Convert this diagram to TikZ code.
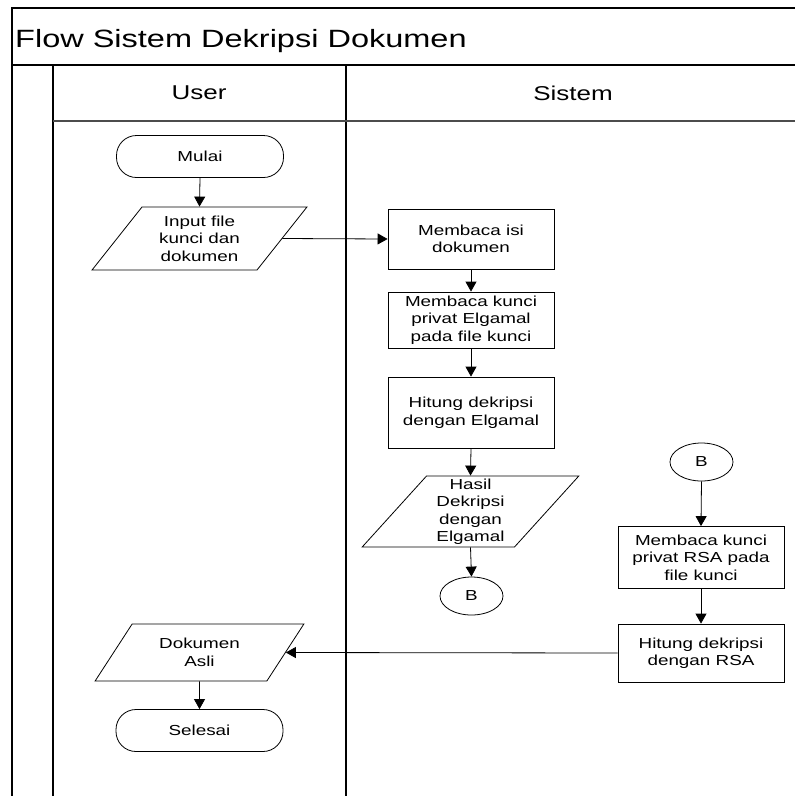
\documentclass[tikz,border=0pt]{standalone}
\usepackage{fontspec}
\setmainfont{Liberation Sans}[FakeStretch=1.3]
\usetikzlibrary{shapes.geometric,arrows.meta}
\newcommand{\nodefont}{\fontsize{14.5}{17.5}\selectfont}
\begin{document}
\begin{tikzpicture}[x=1pt,y=-1pt,
  frame/.style={line width=1.2pt,draw=black},
  box/.style={draw,line width=0.8pt,rectangle,minimum width=166pt,align=center,
    font=\nodefont,inner sep=2pt},
  term/.style={draw,line width=0.8pt,rectangle,rounded corners=20pt,minimum width=167pt,
    minimum height=42pt,font=\nodefont},
  io/.style={draw,line width=0.8pt,trapezium,trapezium left angle=53,trapezium right angle=127,
    trapezium stretches=true,align=center,inner sep=1pt,font=\nodefont},
  conn/.style={draw,line width=0.8pt,ellipse,minimum width=63pt,minimum height=38pt,inner sep=0pt,
    font=\nodefont},
  lane/.style={font=\fontsize{20}{24}\selectfont},
  arr/.style={line width=0.8pt,-{Triangle[length=10pt,width=11pt]}}]
\useasboundingbox (0,0) rectangle (795,796);

% swimlane frame
\draw[frame] (795,8) -- (12,8) -- (12,796);
\draw[line width=2pt] (12,65) -- (795,65);
\draw[frame] (53,65) -- (53,796);
\draw[frame] (346,65) -- (346,796);
\draw[line width=1.2pt,draw=black!70] (53,121) -- (795,121);
\node[anchor=base west,font=\fontsize{25}{30}\selectfont,inner sep=0pt] (title) at (15,47) {Flow Sistem Dekripsi Dokumen};
\node[lane] (huser) at (199,93) {User};
\node[lane] (hsys) at (573,93) {Sistem};

% user lane
\node[term] (mulai) at (200,156.5) {Mulai};
\node[io,minimum width=215pt,minimum height=63pt] (input) at (199.5,238.5) {Input file\\kunci dan\\dokumen};
\node[io,minimum width=209pt,minimum height=57pt] (asli) at (199.5,652.5) {Dokumen\\Asli};
\node[term] (selesai) at (199.5,730.5) {Selesai};

% system lane
\node[box,minimum height=60pt] (baca) at (471,239) {Membaca isi\\dokumen};
\node[box,minimum height=56pt] (kunciE) at (471,320) {Membaca kunci\\privat Elgamal\\pada file kunci};
\node[box,minimum height=71pt] (hitE) at (471,412.5) {Hitung dekripsi\\dengan Elgamal};
\node[io,minimum width=217pt,minimum height=71pt] (hasil) at (470.5,511.5) {Hasil\\Dekripsi\\dengan\\Elgamal};
\node[conn] (b1) at (471.5,596) {B};
\node[conn] (b2) at (701.5,462) {B};
\node[box,minimum height=62pt] (kunciR) at (701,557.5) {Membaca kunci\\privat RSA pada\\file kunci};
\node[box,minimum height=58pt] (hitR) at (701,653) {Hitung dekripsi\\dengan RSA};

% flow
\draw[arr] (mulai.south) -- (input.north);
\draw[arr] (input.right side) -- (baca.west);
\draw[arr] (baca.south) -- (kunciE.north);
\draw[arr] (kunciE.south) -- (hitE.north);
\draw[arr] (hitE.south) -- (hasil.north);
\draw[arr] (hasil.south) -- (b1.north);
\draw[arr] (b2.south) -- (kunciR.north);
\draw[arr] (kunciR.south) -- (hitR.north);
\draw[arr] (hitR.west) -- (asli.right side);
\draw[arr] (asli.south) -- (selesai.north);
\end{tikzpicture}
\end{document}
